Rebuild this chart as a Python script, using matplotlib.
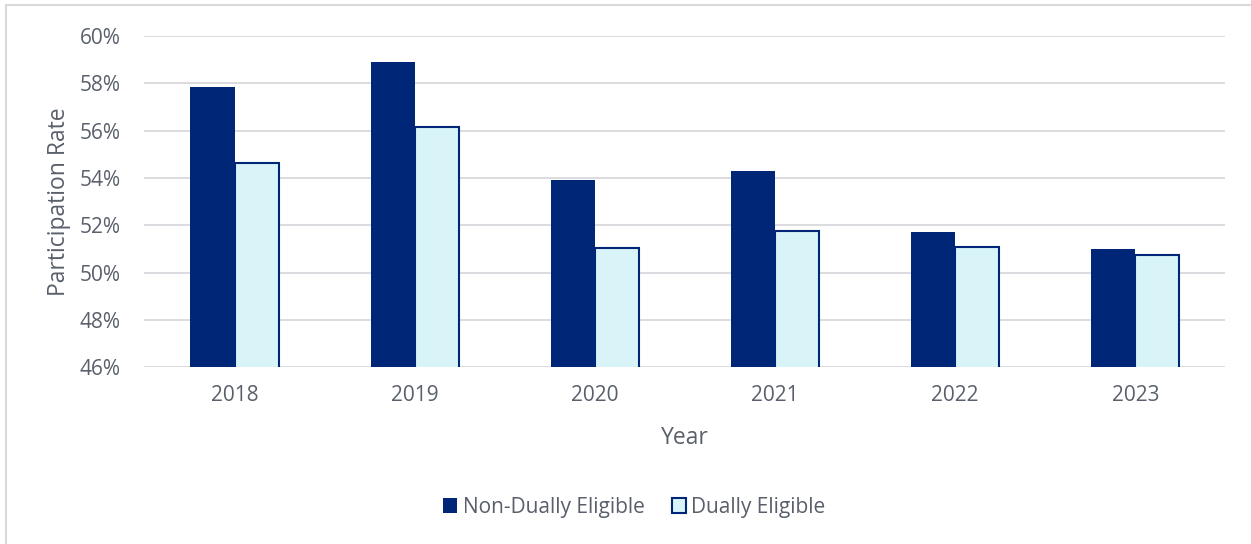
import numpy as np
import matplotlib.pyplot as plt
from matplotlib.ticker import FuncFormatter
from matplotlib.patches import Rectangle

years = ['2018', '2019', '2020', '2021', '2022', '2023']
non_dual = [57.85, 58.88, 53.90, 54.31, 51.72, 51.00]
dual = [54.65, 56.17, 51.05, 51.74, 51.07, 50.73]

NAVY = '#002677'
LIGHT = '#D9F4F8'
TEXT = '#595f6b'
GRID = '#d9d9dd'

plt.rcParams['font.family'] = ['Open Sans', 'DejaVu Sans']

fig = plt.figure(figsize=(12.51, 5.44), dpi=100)
ax = fig.add_axes([0.1155, 0.325, 0.864, 0.609])

x = np.arange(len(years))
w = 0.245
ax.bar(x - w / 2, non_dual, w, color=NAVY, label='Non-Dually Eligible', zorder=3)
ax.bar(x + w / 2, dual, w, color=LIGHT, edgecolor=NAVY, linewidth=1.5,
       label='Dually Eligible', zorder=3)

ax.set_ylim(46, 60)
ax.set_xlim(-0.5, len(years) - 0.5)
ax.set_yticks(np.arange(46, 61, 2))
ax.yaxis.set_major_formatter(FuncFormatter(lambda v, p: f'{v:.0f}%'))
ax.set_xticks(x)
ax.set_xticklabels(years)
ax.grid(axis='y', color=GRID, linewidth=1.3, zorder=0)
for s in ax.spines.values():
    s.set_visible(False)
ax.tick_params(length=0, labelsize=15, colors=TEXT)
ax.tick_params(axis='y', pad=17)
ax.tick_params(axis='x', pad=13)

ax.set_ylabel('Participation Rate', fontsize=16.5, color=TEXT, labelpad=6)
ax.set_xlabel('Year', fontsize=16.5, color=TEXT, labelpad=14)

leg = fig.legend(loc='center', bbox_to_anchor=(0.507, 0.068), ncol=2, frameon=False,
                 fontsize=15, handlelength=0.7, handleheight=0.7,
                 handletextpad=0.25, columnspacing=1.3)
for t in leg.get_texts():
    t.set_color(TEXT)

# light frame around the whole chart
fig.patches.append(Rectangle((0.005, -0.01), 1.0, 1.0, transform=fig.transFigure,
                             fill=False, edgecolor='#d9d9d9', linewidth=1.5))

fig.savefig('out.png', dpi=100)
